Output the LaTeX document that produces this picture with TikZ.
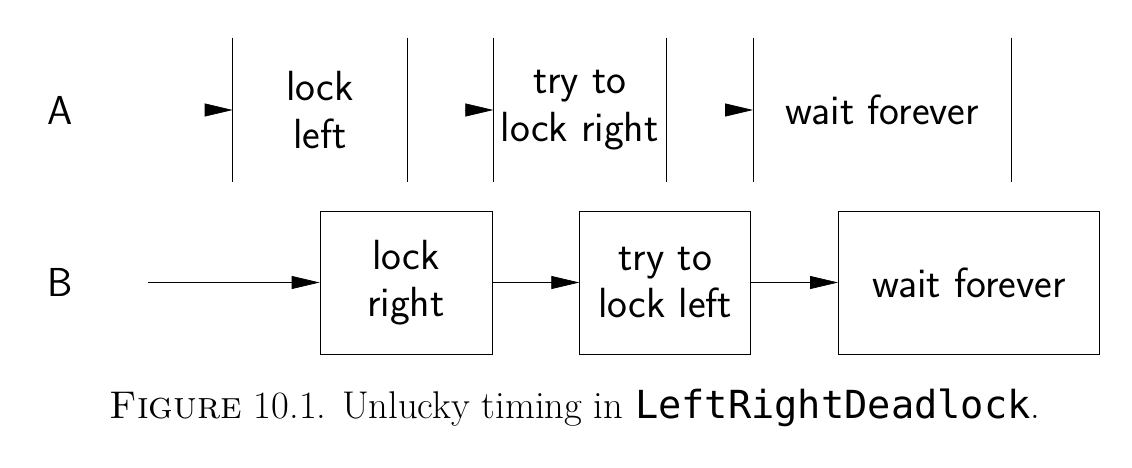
\documentclass[tikz,border=0pt]{standalone}
\usepackage{fontspec}
\setmonofont{DejaVu Sans Mono}
\usetikzlibrary{positioning,arrows.meta}
\tikzset{stepbox/.style={
        draw,
        rectangle,
        minimum height=2.86cm,
        align=center,
        font=\sffamily\fontsize{24}{27}\selectfont,
        thin } }
\tikzset{openbox/.style={
        rectangle,
        minimum height=2.88cm,
        align=center,
        font=\sffamily\fontsize{24}{27}\selectfont } }
\tikzset{rowlabel/.style={ font=\sffamily\fontsize{23}{27}\selectfont } }
\tikzset{go/.style={ -{Triangle[length=5.6mm,width=2.6mm]}, thin } }

\begin{document}
\begin{tikzpicture}

\useasboundingbox (0,0) rectangle (22.64,-9.36);

%% thread A
\node[rowlabel] (la) at (1.2,-2.2) {A};
\node[openbox, minimum width=3.48cm] (a1) at (6.4,-2.2) {lock\\left};
\node[openbox, minimum width=3.44cm] (a2) [right = 1.72cm of a1] {try to\\lock right};
\node[openbox, minimum width=5.16cm] (a3) [right = 1.74cm of a2] {wait forever};

%% thread B
\node[rowlabel] (lb) at (1.2,-5.65) {B};
\node[stepbox, minimum width=3.44cm] (b1) at (8.12,-5.65) {lock\\right};
\node[stepbox, minimum width=3.42cm] (b2) [right = 1.74cm of b1] {try to\\lock left};
\node[stepbox, minimum width=5.22cm] (b3) [right = 1.74cm of b2] {wait forever};
\coordinate (bstart) at (2.96,-5.65);

%% sides of the open boxes
\foreach \n in {a1,a2,a3}{
  \draw[thin] (\n.north west) -- (\n.south west);
  \draw[thin] (\n.north east) -- (\n.south east);
}

%% arrows
\coordinate[left = 0.56cm of a1.west] (pa1);
\coordinate[left = 0.56cm of a2.west] (pa2);
\coordinate[left = 0.56cm of a3.west] (pa3);
\draw[go] (pa1) -- (a1.west);
\draw[go] (pa2) -- (a2.west);
\draw[go] (pa3) -- (a3.west);

\draw[go] (bstart) -- (b1.west);
\draw[go] (b1.east) -- (b2.west);
\draw[go] (b2.east) -- (b3.west);

%% caption
\node[anchor=base, font=\fontsize{22}{26}\selectfont] (cap) at (11.5,-8.36)
  {\textsc{Figure} \oldstylenums{10.1}. Unlucky timing in \texttt{LeftRightDeadlock}.};

\end{tikzpicture}
\end{document}
